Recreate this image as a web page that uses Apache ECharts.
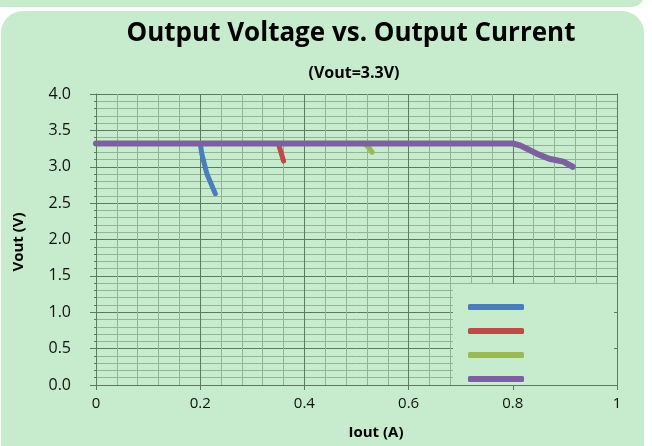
<!DOCTYPE html>
<html>
<head>
<meta charset="utf-8">
<title>Output Voltage vs. Output Current</title>
<script src="https://cdn.jsdelivr.net/npm/echarts@6/dist/echarts.min.js"></script>
<style>
  html, body { margin: 0; padding: 0; background: #ffffff; }
  #chart { width: 652px; height: 446px; }
</style>
</head>
<body>
<div id="chart"></div>
<script>
// 数据
var seriesNames = ['A', 'B', 'C', 'D']
var seriesColors = ['#4a7ebb', '#be4b48', '#98b954', '#7d60a0']

var blueI = [0, 0.2, 0.203, 0.213, 0.229]
var blueV = [3.32, 3.32, 3.18, 2.9, 2.63]
var redI = [0, 0.35, 0.355, 0.36]
var redV = [3.32, 3.32, 3.2, 3.08]
var greenI = [0, 0.515, 0.525, 0.53]
var greenV = [3.32, 3.32, 3.25, 3.2]
var purpleI = [0, 0.8, 0.815, 0.846, 0.87, 0.897, 0.915]
var purpleV = [3.32, 3.32, 3.29, 3.18, 3.11, 3.07, 3.0]

var xTicks = [0, 0.2, 0.4, 0.6, 0.8, 1]
var yTicks = ['0.0', '0.5', '1.0', '1.5', '2.0', '2.5', '3.0', '3.5', '4.0']

;(function () {
  var panel = '#c6ebcd'
  var major = '#5b7a60'
  var minor = '#93b298'
  var font = 'Open Sans'

  var pairs = function (xs, ys) {
    return xs.map(function (x, i) {
      return [x, ys[i]]
    })
  }
  var curves = [pairs(blueI, blueV), pairs(redI, redV), pairs(greenI, greenV), pairs(purpleI, purpleV)]

  var myChart = echarts.init(document.getElementById('chart'))

  // 网格线轴（在下层）
  var gridX = {
    type: 'value', min: 0, max: 1, interval: 0.2, z: 0,
    axisLine: { show: false }, axisTick: { show: false }, axisLabel: { show: false },
    splitLine: { show: true, lineStyle: { color: major, width: 1 } },
    minorTick: { show: false, splitNumber: 5 },
    minorSplitLine: { show: true, lineStyle: { color: minor, width: 1 } },
  }
  var gridY = {
    type: 'value', min: 0, max: 4, interval: 0.5, z: 0,
    axisLine: { show: false }, axisTick: { show: false }, axisLabel: { show: false },
    splitLine: { show: true, lineStyle: { color: major, width: 1 } },
    minorTick: { show: false, splitNumber: 5 },
    minorSplitLine: { show: true, lineStyle: { color: minor, width: 1 } },
  }
  // 坐标轴线和刻度（在图例背景之上）
  var lineX = {
    type: 'value', min: 0, max: 1, interval: 0.2, position: 'bottom', z: 3,
    axisLine: { show: true, onZero: false, lineStyle: { color: major, width: 1 } },
    axisTick: { show: true, length: 5, lineStyle: { color: major } },
    axisLabel: {
      color: '#111', fontSize: 15, fontFamily: font, margin: 11,
      formatter: function (v) {
        var i = xTicks.indexOf(Math.round(v * 10) / 10)
        return i >= 0 ? String(xTicks[i]) : ''
      },
    },
    splitLine: { show: false },
  }
  var lineY = {
    type: 'value', min: 0, max: 4, interval: 0.5, position: 'left', z: 3,
    axisLine: { show: true, onZero: false, lineStyle: { color: major, width: 1 } },
    axisTick: { show: true, length: 6, lineStyle: { color: major } },
    minorTick: { show: true, splitNumber: 5, length: 2, lineStyle: { color: major } },
    axisLabel: {
      color: '#111', fontSize: 16, fontFamily: font, margin: 25,
      formatter: function (v) {
        return yTicks[Math.round(v * 2)]
      },
    },
    splitLine: { show: false },
  }
  var rightY = {
    type: 'value', min: 0, max: 4, interval: 0.5, position: 'right', z: 3,
    axisLine: { show: true, onZero: false, lineStyle: { color: major, width: 1 } },
    axisTick: { show: true, length: 3, inside: true, lineStyle: { color: major } },
    axisLabel: { show: false },
    splitLine: { show: false },
  }

  var option = {
    animation: false,
    textStyle: { fontFamily: font },
    graphic: [
      // 背景面板
      { type: 'rect', z: -10, shape: { x: -20, y: -30, width: 665, height: 37, r: 14 }, style: { fill: panel } },
      { type: 'rect', z: -10, shape: { x: 1, y: 11, width: 643, height: 460, r: 22 }, style: { fill: panel } },
      // 图例背景
      { type: 'rect', z: 1, shape: { x: 453, y: 284, width: 164, height: 101 }, style: { fill: panel } },
      // 标题与轴名
      { type: 'text', z: 5, x: 351, y: 34, style: { text: 'Output Voltage vs. Output Current', align: 'center', verticalAlign: 'middle', fill: '#000', font: 'bold 26px "Open Sans"' } },
      { type: 'text', z: 5, x: 354, y: 73, style: { text: '(Vout=3.3V)', align: 'center', verticalAlign: 'middle', fill: '#000', font: 'bold 16px "Open Sans"' } },
      { type: 'text', z: 5, x: 376, y: 433, style: { text: 'Iout (A)', align: 'center', verticalAlign: 'middle', fill: '#000', font: 'bold 15px "Open Sans"' } },
      { type: 'text', z: 5, x: 19, y: 242, rotation: Math.PI / 2, style: { text: 'Vout (V)', align: 'center', verticalAlign: 'middle', fill: '#000', font: 'bold 15px "Open Sans"' } },
    ],
    legend: {
      show: true,
      orient: 'vertical',
      left: 463,
      top: 299,
      z: 4,
      itemWidth: 56,
      itemHeight: 6,
      itemGap: 18,
      icon: 'roundRect',
      data: seriesNames,
      formatter: function () {
        return ''
      },
    },
    grid: { left: 96, right: 35, top: 94, bottom: 61, containLabel: false },
    xAxis: [gridX, lineX],
    yAxis: [gridY, lineY, rightY],
    series: curves.map(function (d, i) {
      return {
        name: seriesNames[i],
        type: 'line',
        xAxisIndex: 0,
        yAxisIndex: 0,
        showSymbol: false,
        symbol: 'none',
        z: 2 + i * 0.1,
        lineStyle: { color: seriesColors[i], width: i === 3 ? 6 : 5, cap: 'round', join: 'round' },
        itemStyle: { color: seriesColors[i] },
        data: d,
      }
    }),
  }
  myChart.setOption(option)
})()
</script>
</body>
</html>
